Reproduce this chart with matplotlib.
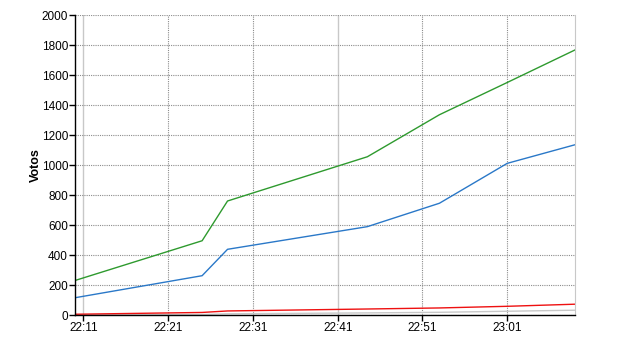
import numpy as np
import pandas as pd
import matplotlib
matplotlib.use('Agg')
import matplotlib.pyplot as plt
import matplotlib.dates as mdates

# times of the readings (approximate)
times = pd.to_datetime(['2000-01-01 22:10:00', '2000-01-01 22:25:00', '2000-01-01 22:28:00',
                        '2000-01-01 22:44:30', '2000-01-01 22:53:00', '2000-01-01 23:01:00',
                        '2000-01-01 23:09:00'])
green_votes = [230, 495, 760, 1055, 1335, 1550, 1767]
blue_votes = [115, 262, 438, 589, 745, 1011, 1135]
red_votes = [5, 17, 27, 40, 47, 58, 72]
grey_votes = [0, 3, 8, 14, 18, 25, 32]

plt.rcParams['font.family'] = ['Liberation Sans', 'DejaVu Sans']

fig = plt.figure(figsize=(6.4, 3.5), dpi=100)
ax = fig.add_axes([75/640, 1 - 315/350, 500/640, 300/350])

ax.plot(times, grey_votes, color='#c8c8c8', lw=1)
ax.plot(times, red_votes, color='#ee1111', lw=1)
ax.plot(times, blue_votes, color='#2a78c8', lw=1)
ax.plot(times, green_votes, color='#2e9a2e', lw=1)

ax.set_xlim(times[0], times[-1])
ax.set_ylim(0, 2000)
ax.set_yticks(np.arange(0, 2001, 200))
ax.xaxis.set_major_locator(mdates.MinuteLocator(byminute=[1, 11, 21, 31, 41, 51]))
ax.xaxis.set_major_formatter(mdates.DateFormatter('%H:%M'))

ax.grid(True, color='#8c8c8c', linestyle=(0, (1, 1)), lw=0.8)
ax.set_axisbelow(True)

# every half hour the vertical grid line is drawn solid light grey
fig.canvas.draw()
for tick, loc in zip(ax.xaxis.get_major_ticks(), ax.get_xticks()):
    if mdates.num2date(loc).minute in (11, 41):
        tick.gridline.set_linestyle('-')
        tick.gridline.set_color('#c8c8c8')
        tick.gridline.set_linewidth(1)

ax.spines['top'].set_visible(False)
ax.spines['right'].set_color('#c8c8c8')
ax.spines['left'].set_linewidth(1)
ax.spines['bottom'].set_linewidth(1)
ax.tick_params(axis='both', labelsize=8.5, length=4, width=1, direction='out', pad=1)
ax.set_ylabel('Votos', fontsize=9, fontweight='bold', labelpad=0)

fig.savefig('out.png', dpi=100)
